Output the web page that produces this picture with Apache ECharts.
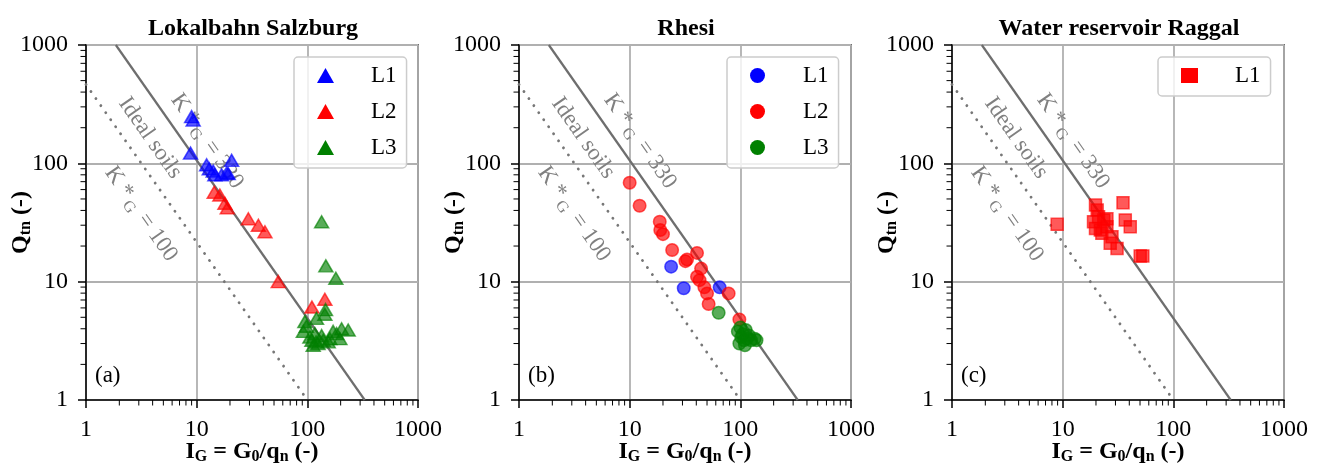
<!DOCTYPE html>
<html>
<head>
<meta charset="utf-8">
<script src="https://cdn.jsdelivr.net/npm/echarts@6/dist/echarts.min.js"></script>
<style>
html, body { margin: 0; padding: 0; background: #fff; }
#main { width: 1320px; height: 463px; }
</style>
</head>
<body>
<div id="main"></div>
<script>
// panel titles / axis ticks
var panelTitles = ['Lokalbahn Salzburg', 'Rhesi', 'Water reservoir Raggal'];
var panelTags = ['(a)', '(b)', '(c)'];
var majorTicks = [1, 10, 100, 1000];
var minorTicks = [2, 3, 4, 5, 6, 7, 8, 9, 20, 30, 40, 50, 60, 70, 80, 90, 200, 300, 400, 500, 600, 700, 800, 900];

// reference lines [IG, Qtn]
var kg330Line = [[1.86, 1000], [330, 1]];
var kg100Line = [[1, 464], [100, 1]];

// (a) Lokalbahn Salzburg
var lokalL1 = [[9.0, 248], [9.3, 232], [8.8, 122], [12.3, 97], [13.0, 90], [14.1, 86], [14.6, 80], [16.8, 80], [18.7, 83], [19.3, 82], [20.7, 106]];
var lokalL2 = [[14.4, 57], [16.2, 54], [18.0, 46], [18.9, 42], [29.3, 34], [36.1, 30], [41.4, 26.4], [54.6, 10], [110, 6.1], [144, 7.1]];
var lokalL3 = [[134.6, 32.1], [147, 13.6], [181, 10.7], [144, 5.3], [146, 5.8], [121, 4.9], [95, 4.6], [92, 3.8], [98, 4.2], [105.5, 3.4],
	[113, 2.9], [117, 3.65], [125, 3.0], [134.6, 3.5], [139, 3.2], [154.5, 3.1], [160, 3.3], [171, 3.8], [184, 3.65], [197, 3.3],
	[204, 4.0], [234, 3.9], [110, 3.2], [120, 3.1]];

// (b) Rhesi
var rhesiL1 = [[23.7, 13.4], [30.8, 8.8], [65.0, 8.95]];
var rhesiL2 = [[10.0, 68.6], [12.3, 43.8], [18.7, 32.1], [18.9, 27.3], [20.0, 25.2], [24.2, 18.5], [40.6, 17.5], [31.9, 14.9], [33.0, 15.4],
	[44.2, 12.9], [40.6, 11.0], [42.8, 10.3], [47.3, 8.95], [50.0, 7.96], [51.7, 6.47], [78.4, 7.96], [98, 4.8]];
var rhesiL3 = [[63.7, 5.46], [95, 3.8], [100, 4.1], [102, 3.4], [105, 3.6], [108, 3.2], [112, 3.9], [115, 3.3], [120, 3.5], [125, 3.2],
	[135, 3.3], [140, 3.2], [98, 3.0], [110, 2.9]];

// (c) Water reservoir Raggal
var raggalL1 = [[8.92, 30.5], [19.8, 44.4], [20.5, 40.3], [23.5, 33.2], [19.0, 32.1], [19.8, 28.2], [21.9, 27.3], [25.1, 29.1], [22.6, 25.6],
	[26.9, 21.1], [31.0, 19.1], [35.1, 46.5], [36.8, 33.2], [40.8, 29.1], [50.2, 16.5], [53, 16.5], [27.9, 24.0], [21.1, 35.4], [25.1, 34]];

var FONT = 'Liberation Serif';
var BLUE = '#0000ff', RED = '#ff0000', GREEN = '#008000';

var gridLefts = [86, 519, 952];
var legendLefts = [294, 727, 1158];

var chart = echarts.init(document.getElementById('main'), null, {renderer: 'canvas'});

var grids = [], xAxes = [], yAxes = [], titles = [], legends = [], graphics = [], series = [];

// 注释文字 (rotated labels along the lines)
var noteText = ['{a|K *}{s|G}{a| = 330}', '{a|Ideal soils}', '{a|K *}{s|G}{a| = 100}'];
var notePos = [[12.4, 154], [3.79, 164], [3.14, 37.3]];

function noteItem(params, api) {
	var p = api.coord([api.value(0), api.value(1)]);
	return {
		type: 'text',
		x: p[0],
		y: p[1],
		rotation: -55 * Math.PI / 180,
		style: {
			text: noteText[params.dataIndex],
			align: 'center',
			verticalAlign: 'middle',
			fill: '#808080',
			fontFamily: FONT,
			fontSize: 23,
			rich: {
				a: {fill: '#808080', fontFamily: FONT, fontSize: 23},
				s: {fill: '#808080', fontFamily: FONT, fontSize: 16, padding: [12, 3, 0, 3]}
			}
		}
	};
}

function xMinorItem(params, api) {
	var p = api.coord([api.value(0), 1]);
	return {type: 'line', shape: {x1: p[0], y1: p[1], x2: p[0], y2: p[1] + 5.5}, style: {stroke: '#000', lineWidth: 1}};
}

function yMinorItem(params, api) {
	var p = api.coord([1, api.value(0)]);
	return {type: 'line', shape: {x1: p[0] - 5.5, y1: p[1], x2: p[0], y2: p[1]}, style: {stroke: '#000', lineWidth: 1}};
}

function scatter(name, idx, data, color, symbol, size) {
	return {
		name: name,
		type: 'scatter',
		xAxisIndex: idx,
		yAxisIndex: idx,
		data: data,
		symbol: symbol,
		symbolSize: size,
		itemStyle: {color: color, opacity: 0.65, borderColor: color, borderWidth: 1.5},
		emphasis: {disabled: true},
		z: 5
	};
}

var panelData = [
	{sym: 'triangle', size: [14, 12], sets: [['L1', lokalL1, BLUE], ['L2', lokalL2, RED], ['L3', lokalL3, GREEN]]},
	{sym: 'circle', size: 12.5, sets: [['L1', rhesiL1, BLUE], ['L2', rhesiL2, RED], ['L3', rhesiL3, GREEN]]},
	{sym: 'rect', size: 12, sets: [['L1', raggalL1, RED]]}
];

for (var i = 0; i < 3; i++) {
	grids.push({
		left: gridLefts[i], top: 45, width: 332, height: 355,
		outerBoundsMode: 'none', containLabel: false,
		show: true, borderColor: '#000', borderWidth: 1.5, backgroundColor: 'transparent'
	});

	xAxes.push({
		gridIndex: i,
		type: 'log',
		logBase: 10,
		min: 1,
		max: 1000,
		name: '{b|I}{s|G}{b| = G}{s|0}{b|/q}{s|n}{b| (-)}',
		nameLocation: 'middle',
		nameGap: 38,
		nameMoveOverlap: false,
		nameTextStyle: {
			rich: {
				b: {fontFamily: FONT, fontSize: 24, fontWeight: 'bold', color: '#000'},
				s: {fontFamily: FONT, fontSize: 16, fontWeight: 'bold', color: '#000', padding: [11, 0, 0, 0]}
			}
		},
		axisLine: {show: true, onZero: false, lineStyle: {color: '#000', width: 1.5}},
		axisTick: {show: true, inside: false, length: 8, lineStyle: {color: '#000', width: 1.5}},
		axisLabel: {fontFamily: FONT, fontSize: 24, color: '#000', margin: 18, formatter: function (v) { return String(v); }},
		splitLine: {show: true, lineStyle: {color: '#b0b0b0', width: 1.8}}
	});

	yAxes.push({
		gridIndex: i,
		type: 'log',
		logBase: 10,
		min: 1,
		max: 1000,
		name: '{b|Q}{s|tn}{b| (-)}',
		nameLocation: 'middle',
		nameRotate: 90,
		nameGap: 52,
		nameMoveOverlap: false,
		nameTextStyle: {
			rich: {
				b: {fontFamily: FONT, fontSize: 24, fontWeight: 'bold', color: '#000'},
				s: {fontFamily: FONT, fontSize: 16, fontWeight: 'bold', color: '#000', padding: [11, 0, 0, 0]}
			}
		},
		axisLine: {show: true, onZero: false, lineStyle: {color: '#000', width: 1.5}},
		axisTick: {show: true, inside: false, length: 8, lineStyle: {color: '#000', width: 1.5}},
		axisLabel: {fontFamily: FONT, fontSize: 24, color: '#000', margin: 18, formatter: function (v) { return String(v); }},
		splitLine: {show: true, lineStyle: {color: '#b0b0b0', width: 1.8}}
	});

	titles.push({
		text: panelTitles[i],
		left: gridLefts[i] + 162,
		textAlign: 'center',
		top: 12,
		textStyle: {fontFamily: FONT, fontSize: 24, fontWeight: 'bold', color: '#000'}
	});

	graphics.push({
		type: 'text',
		left: gridLefts[i] + 9,
		top: 364,
		style: {text: panelTags[i], fill: '#000', font: '23px "Liberation Serif"'}
	});

	// 参考线
	series.push({
		type: 'line', xAxisIndex: i, yAxisIndex: i, data: kg330Line, symbol: 'none', silent: true,
		lineStyle: {color: '#6e6e6e', width: 2.2}, z: 3
	});
	series.push({
		type: 'line', xAxisIndex: i, yAxisIndex: i, data: kg100Line, symbol: 'none', silent: true,
		lineStyle: {color: '#777777', width: 2.8, type: [0.1, 8.5], cap: 'round'}, z: 3
	});
	series.push({
		type: 'custom', xAxisIndex: i, yAxisIndex: i, data: notePos, renderItem: noteItem, silent: true, z: 4
	});
	series.push({
		type: 'custom', xAxisIndex: i, yAxisIndex: i, data: minorTicks, renderItem: xMinorItem, silent: true, clip: false
	});
	series.push({
		type: 'custom', xAxisIndex: i, yAxisIndex: i, data: minorTicks, renderItem: yMinorItem, silent: true, clip: false
	});

	var pd = panelData[i];
	var legendNames = [];
	for (var k = 0; k < pd.sets.length; k++) {
		var sname = panelTags[i] + pd.sets[k][0];
		legendNames.push(sname);
		series.push(scatter(sname, i, pd.sets[k][1], pd.sets[k][2], pd.sym, pd.size));
	}

	legends.push({
		data: legendNames,
		left: legendLefts[i],
		top: 57,
		orient: 'vertical',
		icon: pd.sym,
		itemWidth: 17,
		itemHeight: 15,
		itemGap: 13,
		padding: [7, 10, 9, 23],
		selectedMode: false,
		backgroundColor: 'rgba(255,255,255,0.8)',
		borderColor: '#cccccc',
		borderWidth: 1.5,
		borderRadius: 4,
		itemStyle: {opacity: 1, borderWidth: 0},
		formatter: function (name) {
			return name.slice(3);
		},
		textStyle: {fontFamily: FONT, fontSize: 23, lineHeight: 22, color: '#000', padding: [0, 0, 0, 32]}
	});
}

var option = {
	animation: false,
	title: titles,
	legend: legends,
	grid: grids,
	xAxis: xAxes,
	yAxis: yAxes,
	graphic: graphics,
	series: series
};

chart.setOption(option);
</script>
</body>
</html>
